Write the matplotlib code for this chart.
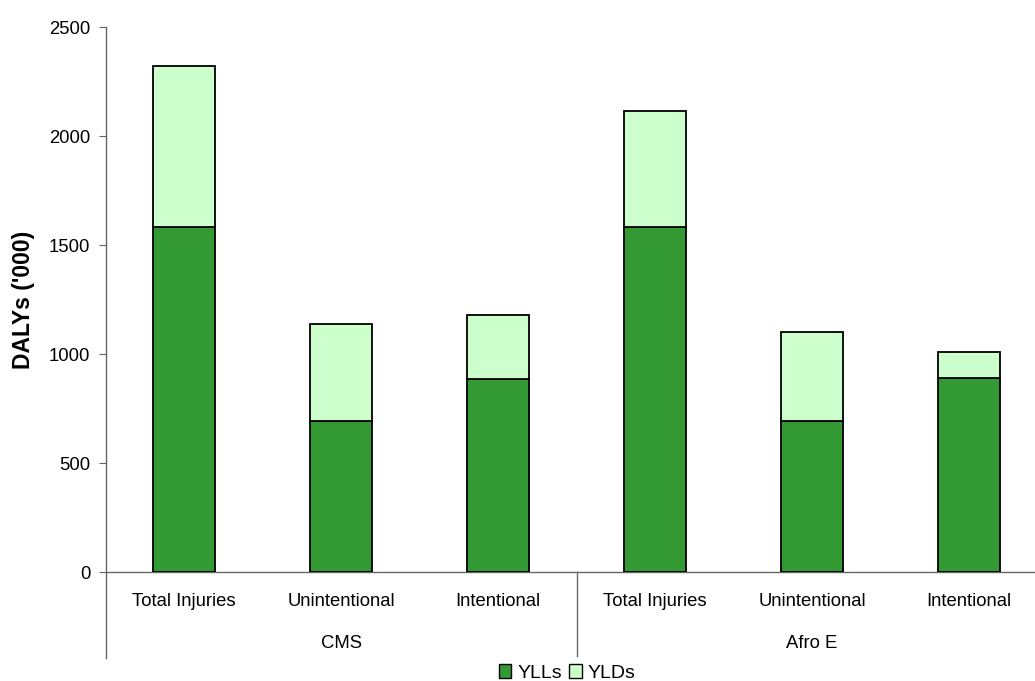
import matplotlib
matplotlib.use("Agg")
import matplotlib.pyplot as plt
import numpy as np
from matplotlib.lines import Line2D
from matplotlib.patches import Patch

plt.rcParams["font.family"] = ["Liberation Sans", "DejaVu Sans"]

# DALYs ('000) split into years of life lost / years lived with disability
groups = ["CMS", "Afro E"]
categories = ["Total Injuries", "Unintentional", "Intentional"]
ylls = [1581, 693, 885, 1583, 693, 889]
ylds = [738, 447, 296, 532, 409, 121]

DARK = "#339933"
LIGHT = "#CCFFCC"
AXIS = "#666666"

fig = plt.figure(figsize=(10.35, 6.81), dpi=100)
ax = fig.add_axes([105.5 / 1035, 0.16, 942 / 1035, 0.8003])

n = len(ylls)
x = np.arange(n)
ax.bar(x, ylls, width=0.4, color=DARK, edgecolor="black", linewidth=1.3, zorder=3)
ax.bar(x, ylds, width=0.4, bottom=ylls, color=LIGHT, edgecolor="black",
       linewidth=1.3, zorder=3)

ax.set_xlim(-0.5, n - 0.5)
ax.set_ylim(0, 2500)
ax.set_yticks(range(0, 2501, 500))
ax.tick_params(axis="y", direction="out", length=5, color=AXIS, labelsize=13.3,
               pad=6)
ax.tick_params(axis="x", length=0, labelsize=13.3, pad=15)
ax.set_xticks(x)
ax.set_xticklabels(categories * len(groups))

for s in ("top", "right"):
    ax.spines[s].set_visible(False)
for s in ("left", "bottom"):
    ax.spines[s].set_color(AXIS)
    ax.spines[s].set_linewidth(1.0)

ax.set_ylabel("DALYs ('000)", fontsize=16.5, fontweight="bold", labelpad=10)

# second level of the category axis: group names and dividers
trans = ax.get_xaxis_transform()
per = len(categories)
for gi, g in enumerate(groups):
    centre = gi * per + (per - 1) / 2
    ax.text(centre, -0.131, g, transform=trans, ha="center", va="center",
            fontsize=13.3)
for edge in range(0, n, per):
    bottom = -0.158 if edge == 0 else -0.154
    ax.add_line(Line2D([edge - 0.5, edge - 0.5], [0, bottom], transform=trans,
                       color=AXIS, linewidth=1.0, clip_on=False))

handles = [Patch(facecolor=DARK, edgecolor="black", label="YLLs"),
           Patch(facecolor=LIGHT, edgecolor="black", label="YLDs")]
fig.legend(handles=handles, loc="center", bbox_to_anchor=(0.548, 0.012),
           ncol=2, frameon=False, fontsize=14, handlelength=0.65,
           handleheight=0.7, handletextpad=0.3, columnspacing=0.4)

fig.savefig("out.png", dpi=100)
